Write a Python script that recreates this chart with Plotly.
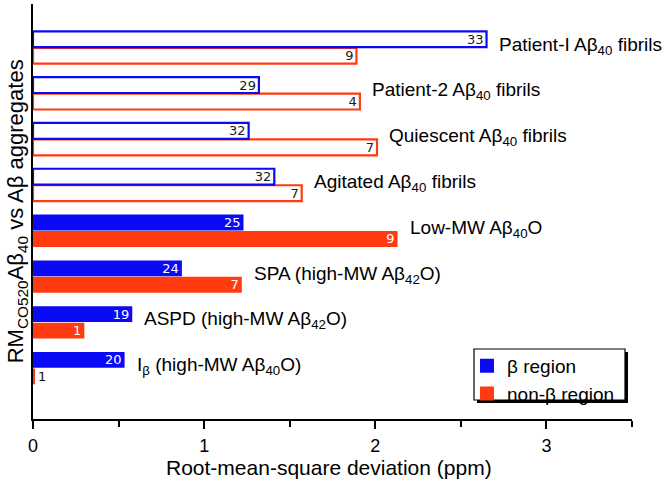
import plotly.graph_objects as go

# Data (top to bottom as drawn)
categories = [
    "Patient-I Aβ<sub>40</sub> fibrils",
    "Patient-2 Aβ<sub>40</sub> fibrils",
    "Quiescent Aβ<sub>40</sub> fibrils",
    "Agitated Aβ<sub>40</sub> fibrils",
    "Low-MW Aβ<sub>40</sub>O",
    "SPA (high-MW Aβ<sub>42</sub>O)",
    "ASPD (high-MW Aβ<sub>42</sub>O)",
    "I<sub>β</sub> (high-MW Aβ<sub>40</sub>O)",
]
beta_rmsd = [2.65, 1.32, 1.26, 1.41, 1.23, 0.87, 0.58, 0.535]
nonbeta_rmsd = [1.89, 1.91, 2.01, 1.57, 2.13, 1.22, 0.30, 0.012]
beta_counts = [33, 29, 32, 32, 25, 24, 19, 20]
nonbeta_counts = [9, 4, 7, 7, 9, 7, 1, 1]
hollow = [True, True, True, True, False, False, False, False]
x_title = "Root-mean-square deviation (ppm)"
y_title = "RM<sub>CO520</sub>Aβ<sub>40</sub> vs Aβ aggregates"

BLUE = "#0a0af5"
RED = "#ff3b0f"

# plotting order bottom -> top
idx = list(range(len(categories)))[::-1]
keys = [f"c{i}" for i in idx]


def make_trace(name, vals, counts, color):
    v = [vals[i] for i in idx]
    t = [str(counts[i]) for i in idx]
    h = [hollow[i] for i in idx]
    fill = ["white" if hh else color for hh in h]
    lw = [2.2 if hh else 0 for hh in h]
    tpos = []
    tcol = []
    for vv, hh in zip(v, h):
        if vv < 0.1:
            tpos.append("outside")
            tcol.append("#111111")
        else:
            tpos.append("inside")
            tcol.append("#1a1a1a" if hh else "white")
    return go.Bar(
        name=name, y=keys, x=v, orientation="h",
        marker=dict(color=fill, line=dict(color=color, width=lw)),
        text=t, textposition=tpos, insidetextanchor="end", textangle=0,
        textfont=dict(family="DejaVu Sans", size=13, color=tcol),
        constraintext="none", cliponaxis=False,
    )


fig = go.Figure()
fig.add_trace(make_trace("non-β region", nonbeta_rmsd, nonbeta_counts, RED))
fig.add_trace(make_trace("β region", beta_rmsd, beta_counts, BLUE))

for i, c in enumerate(categories):
    fig.add_annotation(
        x=max(beta_rmsd[i], nonbeta_rmsd[i]), y=f"c{i}", text=c,
        xanchor="left", yanchor="middle", xshift=10, yshift=2,
        showarrow=False,
        font=dict(family="Liberation Sans", size=19, color="black"),
    )

L, R, T, B = 33, 40, 4, 62
W, H = 672, 481
pw, ph = W - L - R, H - T - B

fig.add_annotation(
    xref="paper", yref="paper", x=-0.027, y=0.5,
    text=y_title,
    textangle=-90, showarrow=False, xanchor="center", yanchor="middle",
    font=dict(family="Liberation Sans", size=22, color="black"),
)
fig.add_annotation(
    xref="paper", yref="paper", x=(329 - L) / pw, y=1 - (481 - T) / ph,
    text=x_title, showarrow=False, xanchor="center", yanchor="bottom",
    font=dict(family="Liberation Sans", size=21, color="black"),
)

# legend shadow + box
lx0, ly0, lx1, ly1 = 474, 349, 625, 400
fig.add_shape(type="rect", xref="paper", yref="paper",
              x0=(lx0 + 3 - L) / pw, x1=(lx1 + 3 - L) / pw,
              y0=1 - (ly1 + 3 - T) / ph, y1=1 - (ly0 + 3 - T) / ph,
              fillcolor="black", line=dict(width=0), layer="above")
fig.add_shape(type="rect", xref="paper", yref="paper",
              x0=(lx0 - L) / pw, x1=(lx1 - L) / pw,
              y0=1 - (ly1 - T) / ph, y1=1 - (ly0 - T) / ph,
              fillcolor="white", line=dict(width=1.2, color="black"), layer="above")

fig.update_layout(
    width=W, height=H,
    margin=dict(l=L, r=R, t=T, b=B),
    plot_bgcolor="white", paper_bgcolor="white",
    barmode="group", bargap=0.28, bargroupgap=0.04,
    font=dict(family="Liberation Sans", color="black"),
    legend=dict(
        x=(467 - L) / pw, y=1 - (347 - T) / ph,
        xanchor="left", yanchor="top",
        traceorder="reversed", bgcolor="rgba(0,0,0,0)",
        font=dict(family="Liberation Sans", size=19, color="black"),
        itemsizing="constant", tracegroupgap=0,
    ),
    xaxis=dict(
        range=[0, 3.5], tickvals=[0, 1, 2, 3], ticks="outside", ticklen=8,
        tickwidth=1.5, tickcolor="black", showline=True, linecolor="black",
        linewidth=2, showgrid=False, zeroline=False, ticklabelstandoff=1,
        minor=dict(dtick=0.5, ticks="outside", ticklen=6, tickwidth=1.5,
                   tickcolor="black", showgrid=False),
        tickfont=dict(family="Liberation Sans", size=18, color="black"),
    ),
    yaxis=dict(
        type="category", categoryorder="array", categoryarray=keys,
        range=[-1.11, 7.95], showticklabels=False, ticks="",
        showline=True, linecolor="black", linewidth=2, showgrid=False,
        zeroline=False,
    ),
)

fig.write_html("out.html", config={"displayModeBar": False},
               post_script="document.body.style.margin='0';document.body.style.padding='0';")
